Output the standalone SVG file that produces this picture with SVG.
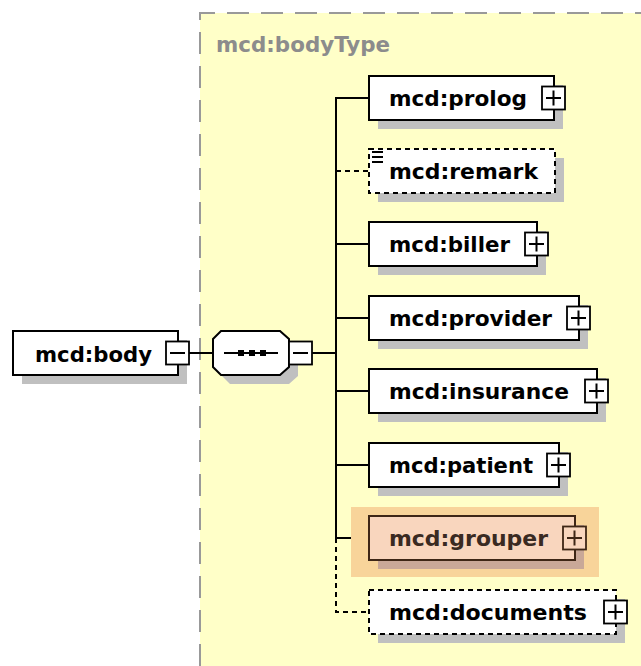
<svg xmlns="http://www.w3.org/2000/svg" width="641" height="666" viewBox="0 0 641 666">
<style>
.bg{fill:#ffffc8}
.frame{fill:none;stroke:#999;stroke-width:2;stroke-dasharray:22 12}
.box{fill:#fff;stroke:#000;stroke-width:2}
.opt{stroke-dasharray:5 4}
.sh{fill:#c0c0c0}
.t{font-family:"DejaVu Sans","Liberation Sans",sans-serif;font-weight:bold;font-size:22px;fill:#000}
.tt{font-family:"DejaVu Sans","Liberation Sans",sans-serif;font-weight:bold;font-size:21px;fill:#8c8c8c}
.pm{fill:#fff;stroke:#000;stroke-width:1.8}
.sg{stroke:#000;stroke-width:2;fill:none}
.ln{stroke:#000;stroke-width:2;fill:none}
.dl{stroke:#000;stroke-width:2;fill:none;stroke-dasharray:5 4}
</style>
<defs>
<g id="plus"><rect class="pm" x="0" y="0" width="23" height="23"/><path class="sg" d="M4,11.5H19M11.5,4V19"/></g>
<g id="minus"><rect class="pm" x="0" y="0" width="23" height="23"/><path class="sg" d="M4,11.5H19"/></g>
</defs>

<g id="bodyType">
<rect class="bg" x="200" y="13" width="460" height="670"/>
<path class="frame" d="M200,666V13H641"/>
<text class="tt" x="216" y="52" textLength="174" lengthAdjust="spacingAndGlyphs">mcd:bodyType</text>
</g>

<g id="connectors">
<path class="ln" d="M189,353H213"/>
<path class="ln" d="M312,353H336"/>
<path class="ln" d="M369,98H336V538H369"/>
<path class="dl" d="M336,171H369"/>
<path class="ln" d="M336,244H369M336,318H369M336,391H369M336,465H369"/>
<path class="dl" d="M336,538V612H369"/>
</g>

<g id="body">
<rect class="sh" x="22" y="340" width="165" height="44"/>
<rect class="box" x="13" y="331" width="165" height="44"/>
<text class="t" x="35" y="362" textLength="117" lengthAdjust="spacingAndGlyphs">mcd:body</text>
<use href="#minus" x="166" y="341.5"/>
</g>

<g id="sequence">
<polygon class="sh" points="222,348 230,340 289,340 298,348 298,376 289,384 230,384 222,376"/>
<polygon class="box" points="213,339 221,331 280,331 289,339 289,367 280,375 221,375 213,367"/>
<path class="ln" d="M224,353H278"/>
<rect x="238" y="350" width="6" height="6" fill="#000"/>
<rect x="249" y="350" width="6" height="6" fill="#000"/>
<rect x="260" y="350" width="6" height="6" fill="#000"/>
<use href="#minus" x="289" y="341.5"/>
</g>

<g id="prolog">
<rect class="sh" x="378" y="85" width="185" height="44"/>
<rect class="box" x="369" y="76" width="185" height="44"/>
<text class="t" x="389" y="106" textLength="138" lengthAdjust="spacingAndGlyphs">mcd:prolog</text>
<use href="#plus" x="542" y="86.5"/>
</g>

<g id="remark">
<rect class="sh" x="378" y="158" width="186" height="44"/>
<rect class="box opt" x="369" y="149" width="186" height="44"/>
<path d="M372,152H383M372,157H383M372,162H383" stroke="#000" stroke-width="2"/>
<text class="t" x="389" y="179" textLength="149" lengthAdjust="spacingAndGlyphs">mcd:remark</text>
</g>

<g id="biller">
<rect class="sh" x="378" y="231" width="168" height="44"/>
<rect class="box" x="369" y="222" width="168" height="44"/>
<text class="t" x="389" y="252" textLength="121" lengthAdjust="spacingAndGlyphs">mcd:biller</text>
<use href="#plus" x="525" y="232.5"/>
</g>

<g id="provider">
<rect class="sh" x="378" y="305" width="210" height="44"/>
<rect class="box" x="369" y="296" width="210" height="44"/>
<text class="t" x="389" y="326" textLength="163" lengthAdjust="spacingAndGlyphs">mcd:provider</text>
<use href="#plus" x="567" y="306.5"/>
</g>

<g id="insurance">
<rect class="sh" x="378" y="378" width="228" height="44"/>
<rect class="box" x="369" y="369" width="228" height="44"/>
<text class="t" x="389" y="399" textLength="180" lengthAdjust="spacingAndGlyphs">mcd:insurance</text>
<use href="#plus" x="585" y="379.5"/>
</g>

<g id="patient">
<rect class="sh" x="378" y="452" width="190" height="44"/>
<rect class="box" x="369" y="443" width="190" height="44"/>
<text class="t" x="389" y="473" textLength="144" lengthAdjust="spacingAndGlyphs">mcd:patient</text>
<use href="#plus" x="547" y="453.5"/>
</g>

<g id="grouper">
<rect x="351" y="507" width="248" height="70" fill="#f8d49a"/>
<rect x="378" y="525" width="206" height="44" fill="#c9a898"/>
<rect x="369" y="516" width="206" height="44" fill="#f9d6be" stroke="#3e2616" stroke-width="2"/>
<text class="t" x="389" y="546" textLength="159" lengthAdjust="spacingAndGlyphs" style="fill:#3a2a22">mcd:grouper</text>
<g transform="translate(563,526.5)"><rect x="0" y="0" width="23" height="23" fill="#f9d6be" stroke="#3e2616" stroke-width="1.8"/><path d="M4,11.5H19M11.5,4V19" stroke="#3e2616" stroke-width="2"/></g>
</g>

<g id="documents">
<rect class="sh" x="378" y="599" width="247" height="44"/>
<rect class="box opt" x="369" y="590" width="247" height="44"/>
<text class="t" x="389" y="620" textLength="198" lengthAdjust="spacingAndGlyphs">mcd:documents</text>
<use href="#plus" x="604" y="600.5"/>
</g>
</svg>
